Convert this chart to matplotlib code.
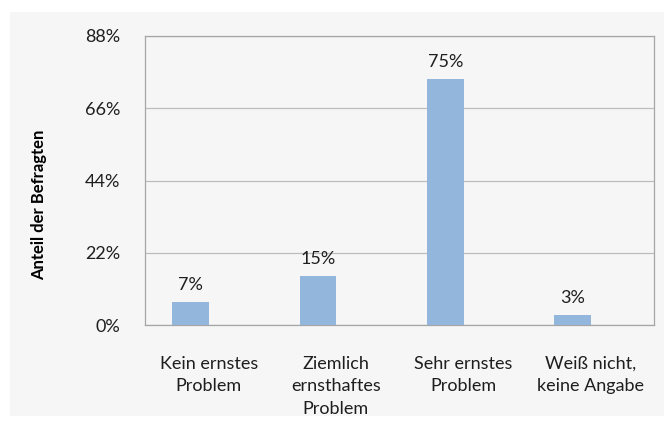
import numpy as np
import matplotlib.pyplot as plt
from matplotlib.patches import Rectangle

categories = ["Kein ernstes\nProblem", "Ziemlich\nernsthaftes\nProblem",
              "Sehr ernstes\nProblem", "Weiß nicht,\nkeine Angabe"]
values = [7, 15, 75, 3]
yticks = [0, 22, 44, 66, 88]

plt.rcParams['font.family'] = ['Lato', 'DejaVu Sans']

fig = plt.figure(figsize=(6.64, 4.24), dpi=100)
fig.patch.set_facecolor("white")
# light gray chart panel behind everything
fig.add_artist(Rectangle((10/664, 8/424), 654/664, 404/424,
                         transform=fig.transFigure, facecolor="#f6f6f6",
                         edgecolor="none", zorder=-10))

ax = fig.add_axes([145/664, (424-325)/424, 509/664, 289/424])
ax.set_facecolor("#f6f6f6")

x = np.arange(len(categories))
bx = x - 0.14  # bars sit a bit left of the category centre in the original
ax.bar(bx, values, width=0.288, color="#93b6dc", zorder=3)
for xi, v in zip(bx, values):
    ax.text(xi, v + 2.7, f"{v}%", ha="center", va="bottom", fontsize=13, color="#1e1e1e")

ax.set_ylim(0, 88)
ax.set_xlim(-0.5, len(categories) - 0.5)
ax.set_yticks(yticks)
ax.set_yticklabels([f"{t}%" for t in yticks], fontsize=13, color="#1e1e1e")
ax.yaxis.grid(True, color="#bdbdbd", linewidth=0.9, zorder=0)
ax.set_xticks(x)
ax.set_xticklabels(categories, fontsize=13, color="#1e1e1e", linespacing=1.5)
ax.tick_params(axis="both", length=0)
ax.tick_params(axis="x", pad=22)
ax.tick_params(axis="y", pad=18)
for s in ax.spines.values():
    s.set_color("#a6a6a6")
    s.set_linewidth(0.9)
ax.set_ylabel("Anteil der Befragten", fontsize=12, fontweight="bold")
ax.yaxis.set_label_coords(-0.192, 0.415)

fig.savefig("out.png", dpi=100)
